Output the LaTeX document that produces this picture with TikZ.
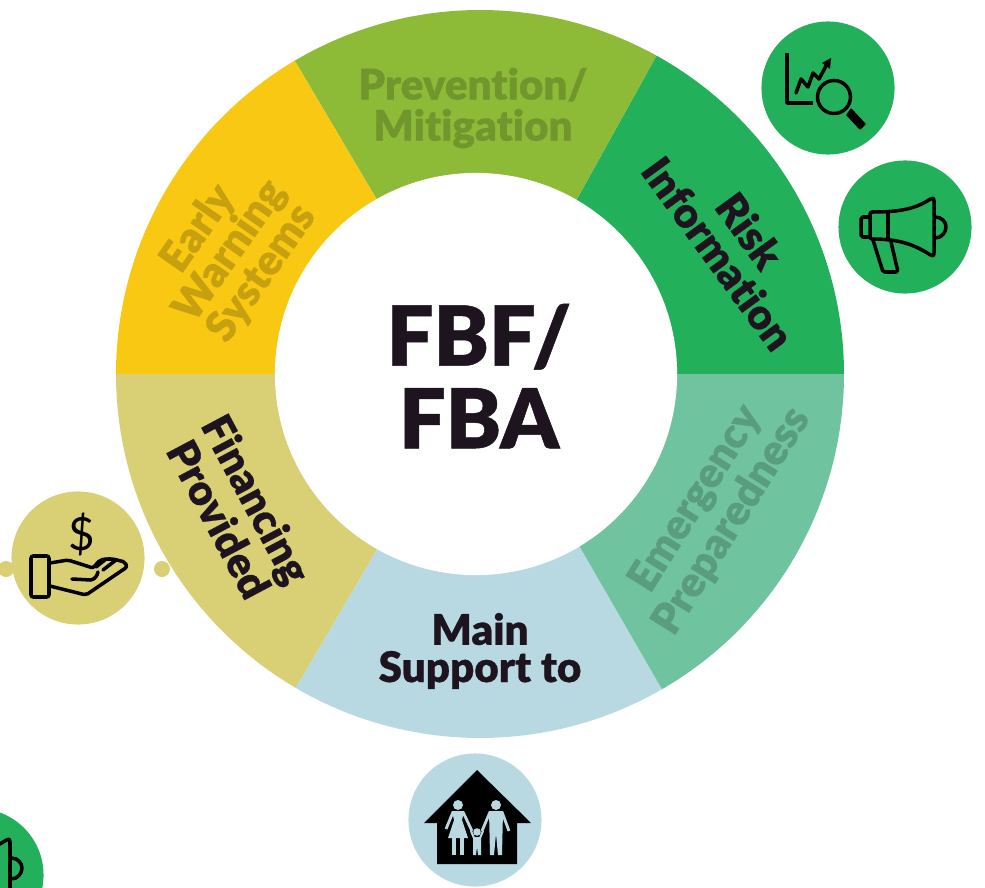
\documentclass[tikz,border=0pt]{standalone}
\usepackage{fontspec}
\setmainfont{Lato Black}[Ligatures=NoCommon,FakeBold=0.6]
\newfontfamily\iconfont{Lato}
\usetikzlibrary{positioning}
\definecolor{warningcol}{HTML}{F9C813}
\definecolor{preventcol}{HTML}{8DBB38}
\definecolor{riskcol}{HTML}{23B05B}
\definecolor{emergcol}{HTML}{6FC39E}
\definecolor{supportcol}{HTML}{B8D9E2}
\definecolor{financecol}{HTML}{D9D075}
\definecolor{inkcol}{HTML}{1E1420}
\tikzstyle{badge} = [circle, inner sep=0pt, minimum size=1.33cm]
\tikzstyle{seglabel} = [align=center, font=\fontsize{12}{11}\selectfont, inner sep=0pt]
\tikzstyle{iconline} = [draw=black, line width=1pt, line join=round, line cap=round]
\tikzset{
    chartlens/.pic={
        % Axes
        \draw[iconline, line cap=butt] (-41,-35) -- (-41,15) -- (-15,15);
        % Trend
        \draw[iconline] (-32,5) -- (-27,-9) -- (-20,-1) -- (-15,-15) -- (-9,-9) -- (-2,-22);
        \fill[black] (3,-30) -- (-6,-25) -- (2,-19) -- cycle;
        % Lens
        \draw[iconline] (6,9) circle (16.5);
        % Handle
        \fill[black, rounded corners=0.2pt] (23,20) -- (38,36) -- (32,42) -- (18,27) -- cycle;
    },
    megaphone/.pic={
        % Horn
        \draw[iconline, rounded corners=0.6pt] (-35,-15) .. controls (-5,-15) and (10,-18) .. (27,-29) -- (29,-28) -- (29,28) -- (27,29) .. controls (10,18) and (-5,12) .. (-35,12) -- cycle;
        \draw[iconline] (-17,-15) -- (-17,12);
        % Back
        \draw[iconline, rounded corners=0.5pt] (-35,-10) -- (-44,-10) -- (-44,10) -- (-35,10);
        % Grip
        \draw[iconline, rounded corners=0.5pt] (-32,13) -- (-22,45) -- (-7,45) -- (-14,15);
        % Front
        \draw[iconline] (30,-10) .. controls (37,-10) and (41,-5) .. (41,0) .. controls (41,5) and (37,11) .. (30,11);
    },
    openhand/.pic={
        % Cuff
        \draw[iconline, rounded corners=0.6pt] (-47,-2) rectangle (-29,39);
        % Palm
        \draw[iconline, rounded corners=0.6pt] (-28,5) -- (-10,2) -- (15,10) -- (22,2) -- (28,1) -- (35,1) -- (47,4) -- (49,9) -- (8,37) -- (-28,28);
        % Fingers
        \draw[iconline] (-6,21) -- (13,22) .. controls (17,21) and (19,18) .. (20,14);
        \draw[iconline] (18,9) -- (28,1);
        \draw[iconline] (25,12) -- (38,2);
    },
    family/.pic={
        % House
        \fill[black] (2,-50) -- (56,3) -- (42,3) -- (42,44) -- (-38,44) -- (-38,3) -- (-51,3) -- cycle;
        % Mother
        \fill[supportcol] (-17,-15) circle (5);
        \fill[supportcol] (-23,-9) -- (-11,-9) -- (-13,0) -- (-7,18) -- (-27,18) -- (-21,0) -- cycle;
        \draw[supportcol, line width=0.8pt] (-22,-8) -- (-29,9);
        \draw[supportcol, line width=0.8pt] (-12,-8) -- (-3,11);
        \draw[supportcol, line width=1pt] (-21,18) -- (-21,35);
        \draw[supportcol, line width=1pt] (-13,18) -- (-13,35);
        % Father
        \fill[supportcol] (21,-15) circle (5);
        \fill[supportcol] (14,-9) -- (28,-9) -- (27,35) -- (23,35) -- (21,14) -- (19,35) -- (15,35) -- cycle;
        \draw[supportcol, line width=0.8pt] (15,-8) -- (7,11);
        \draw[supportcol, line width=0.8pt] (27,-8) -- (34,11);
        % Child
        \fill[supportcol] (2,12) circle (3.8);
        \fill[supportcol] (-2,17) -- (6,17) -- (6,35) -- (3,35) -- (2,27) -- (1,35) -- (-2,35) -- cycle;
        \draw[supportcol, line width=0.6pt] (-1,18) -- (-4,11);
        \draw[supportcol, line width=0.6pt] (5,18) -- (8,11);
    }
}
\begin{document}
\begin{tikzpicture}[x=0.01cm,y=0.01cm]

    \clip (0,0) rectangle (985,887);
    \useasboundingbox (0,0) rectangle (985,887);

    % Ring
    \coordinate (hub) at (480,513);
    \fill[riskcol] (hub) -- ++(0:364) arc (0:61:364) -- cycle;
    \fill[preventcol] (hub) -- ++(61:364) arc (61:120.6:364) -- cycle;
    \fill[warningcol] (hub) -- ++(120.6:364) arc (120.6:180:364) -- cycle;
    \fill[financecol] (hub) -- ++(180:364) arc (180:239.6:364) -- cycle;
    \fill[supportcol] (hub) -- ++(239.6:364) arc (239.6:300:364) -- cycle;
    \fill[emergcol] (hub) -- ++(300:364) arc (300:360:364) -- cycle;
    \node[circle, fill=white, inner sep=0pt, minimum size=4.02cm] (centre) at (476,513) {};

    % Labels
    \node[align=center, text=inkcol, font=\fontsize{23.5}{23.5}\selectfont, inner sep=0pt] (title) at (479,511) {FBF/\\FBA};
    \node[seglabel, text=preventcol!80!black, font=\fontsize{12}{11.7}\selectfont] (prevention) at (473,779) {Prevention/\\Mitigation};
    \node[seglabel, text=inkcol, rotate=-54] (risk) at (734,645) {Risk\\Information};
    \node[seglabel, text=emergcol!80!black, rotate=58] (emergency) at (714,377) {Emergency\\Preparedness};
    \node[seglabel, text=inkcol, font=\fontsize{12}{10.6}\selectfont] (support) at (480,236) {Main\\Support to};
    \node[seglabel, text=inkcol, rotate=-62] (financing) at (238,378) {Financing\\Provided};
    \node[seglabel, text=warningcol!80!black, rotate=55] (warning) at (230,636) {Early\\Warning\\Systems};

    % Dots
    \node[circle, fill=financecol, inner sep=0pt, minimum size=0.16cm] (leftdot) at (6,318) {};
    \node[circle, fill=financecol, inner sep=0pt, minimum size=0.16cm] (rightdot) at (162,318) {};

    % Badges
    \node[badge, fill=riskcol] (chartbadge) at (828,799) {};
    \node[badge, fill=riskcol] (hornbadge) at (905,660) {};
    \node[badge, fill=financecol] (handbadge) at (78,329) {};
    \node[badge, fill=supportcol] (homebadge) at (475,67) {};
    \node[badge, fill=riskcol] (cornerbadge) at (-23,12) {};

    % Icons
    \pic[yscale=-1] at (chartbadge) {chartlens};
    \pic[yscale=-1] at (hornbadge) {megaphone};
    \pic[yscale=-1] at (handbadge) {openhand};
    \pic[yscale=-1] at (homebadge) {family};
    \pic[yscale=-1] at (-19,19) {megaphone};
    \node[font=\iconfont\fontsize{13}{13}\selectfont, inner sep=0pt] (dollar) at (82,353) {\$};

\end{tikzpicture}
\end{document}
